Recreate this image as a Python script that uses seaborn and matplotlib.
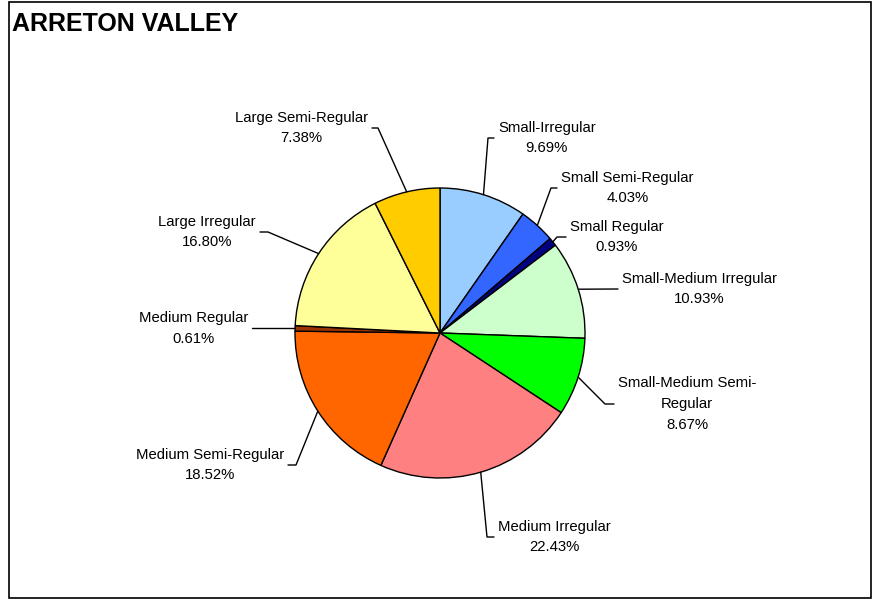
import numpy as np
import matplotlib
matplotlib.use("Agg")
import matplotlib.pyplot as plt
import seaborn as sns
from matplotlib.patches import Rectangle

# data, clockwise from 12 o'clock
categories = ["Small-Irregular", "Small Semi-Regular", "Small Regular",
              "Small-Medium Irregular", "Small-Medium Semi-Regular",
              "Medium Irregular", "Medium Semi-Regular", "Medium Regular",
              "Large Irregular", "Large Semi-Regular"]
shares = [9.69, 4.03, 0.93, 10.93, 8.67, 22.43, 18.52, 0.61, 16.80, 7.38]
label_texts = ["Small-Irregular", "Small Semi-Regular", "Small Regular",
               "Small-Medium Irregular", "Small-Medium Semi-\nRegular",
               "Medium Irregular", "Medium Semi-Regular", "Medium Regular",
               "Large Irregular", "Large Semi-Regular"]
colors = ["#99CCFF", "#3366FF", "#000080", "#CCFFCC", "#00FF00",
          "#FF8080", "#FF6600", "#993300", "#FFFF99", "#FFCC00"]

W, H = 872, 599
sns.set_style("white")
plt.rcParams["font.family"] = ["Liberation Sans", "DejaVu Sans"]
plt.rcParams["text.color"] = "black"

fig = plt.figure(figsize=(W / 100, H / 100), dpi=100)
ax = fig.add_axes([0, 0, 1, 1])

cx, cy, r = 440, H - 333, 145
pal = sns.color_palette(colors)
wedges, _ = ax.pie(shares, colors=pal, startangle=90, counterclock=False,
                   center=(cx, cy), radius=r,
                   wedgeprops=dict(edgecolor="black", linewidth=1.0))
ax.set_xlim(0, W)
ax.set_ylim(0, H)
ax.set_aspect("equal")
ax.axis("off")

# leader elbows (pixel coords from top) and side of the text
elbows = [(488, 138, "R"), (551, 188, "R"), (557, 237, "R"), (None, 289, "R"),
          (605, 404, "R"), (487, 537, "R"), (296, 465, "L"), (None, None, "L"),
          (268, 232, "L"), (378, 128, "L")]
ends_x = [494, 557, 566, 618, 614, 494, 288, 252, 260, 372]

for w, cat_txt, val, (ex, ey, side), endx in zip(wedges, label_texts, shares, elbows, ends_x):
    ang = np.deg2rad((w.theta1 + w.theta2) / 2)
    sx, sy = cx + r * np.cos(ang), cy + r * np.sin(ang)
    ey = sy if ey is None else H - ey
    if ex is None:
        xs, ys = [sx, endx], [sy, ey]
    else:
        xs, ys = [sx, ex, endx], [sy, ey, ey]
    ax.plot(xs, ys, color="black", lw=1.0)
    txt = f"{cat_txt}\n{val:.2f}%"
    if side == "R":
        ax.text(endx + 4, ey, txt, ha="left", va="center", multialignment="center",
                fontsize=10.7, linespacing=1.62)
    else:
        ax.text(endx - 4, ey, txt, ha="right", va="center", multialignment="center",
                fontsize=10.7, linespacing=1.62)

ax.text(12, H - 24, "ARRETON VALLEY", fontsize=18, fontweight="bold",
        ha="left", va="center")

fig.patches.append(Rectangle((8.5 / W, 1.5 / H), (862 / W), (596 / H),
                             transform=fig.transFigure, fill=False,
                             edgecolor="black", linewidth=1.2))

fig.savefig("out.png", dpi=100)
